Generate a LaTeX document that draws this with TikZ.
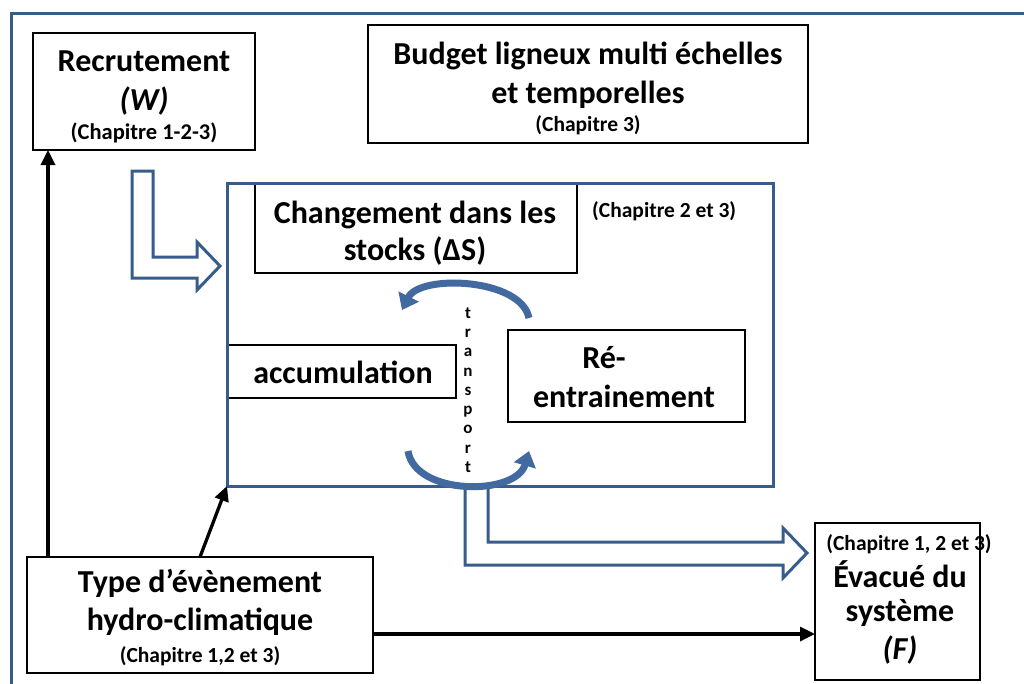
\documentclass[tikz,border=0pt]{standalone}
\usepackage{fontspec}
\setmainfont{Carlito}
\usetikzlibrary{arrows.meta,calc}
\definecolor{frameblue}{RGB}{56,93,138}
\definecolor{curvblue}{RGB}{66,106,160}
\begin{document}
\begin{tikzpicture}[x=1pt,y=-1pt,
  box/.style={draw=black, line width=2.1pt, fill=white, inner sep=0pt, outer sep=0pt},
  bluebox/.style={draw=frameblue, line width=3pt, inner sep=0pt, outer sep=0pt},
  big/.style={font=\fontsize{32}{38}\selectfont\bfseries, inner sep=0pt, anchor=base},
  small/.style={font=\fontsize{21.5}{25}\selectfont\bfseries, inner sep=0pt, anchor=base},
  hollow/.style={draw=frameblue, line width=3pt, fill=white, line join=miter},
  curv/.style={draw=curvblue, line width=7pt, -{Triangle[length=15pt,width=22pt]}},
  arr/.style={draw=black, line width=3.3pt, -{Triangle[length=15pt,width=14pt]}}]
\useasboundingbox (0,0) rectangle (1024,683);
\clip (0,0) rectangle (1024,683);
\fill[white] (0,0) rectangle (1024,683);
% outer frame
\draw[draw=frameblue, line width=3pt] (11,13) rectangle (1040,700);

% Recrutement
\node[box, minimum width=222pt, minimum height=117pt] (rec) at (144,91.5) {};
\node[big] (recT) at (144,71) {Recrutement};
\node[big] (recW) at (144,110) {\itshape (W)};
\node[small, font=\fontsize{22.5}{26}\selectfont\bfseries] (recC) at (144,139) {(Chapitre 1-2-3)};

% Budget
\node[box, minimum width=440pt, minimum height=118pt] (bud) at (588,84) {};
\node[big] (budT) at (588,64) {Budget ligneux multi échelles};
\node[big] (budT2) at (588,103) {et temporelles};
\node[small] (budC) at (588,131) {(Chapitre 3)};

% hollow arrow into system
\path[hollow] (132,171) -- (153,171) -- (153,257) -- (197,257) -- (197,242) -- (220,266) -- (197,290) -- (197,278) -- (132,278) -- cycle;
% hollow arrow out of system
\fill[white] (465,486) -- (465,565) -- (783,565) -- (783,578) -- (807,553) -- (783,528) -- (783,542) -- (488,542) -- (488,486);
\draw[draw=frameblue, line width=3pt, line join=miter] (465,486) -- (465,565) -- (783,565) -- (783,578) -- (807,553) -- (783,528) -- (783,542) -- (488,542) -- (488,486);

% inner boxes
\node[box, minimum width=322pt, minimum height=90pt] (chg) at (416,228) {};
\node[big] (chgT) at (415,223) {Changement dans les};
\node[big] (chgT2) at (415,260) {stocks (ΔS)};
\node[small, anchor=base west] (chgC) at (592,217) {(Chapitre 2 et 3)};

\node[box, minimum width=229pt, minimum height=53pt] (acc) at (341.5,371.5) {};
\node[big] (accT) at (343,383) {accumulation};

\node[box, minimum width=237pt, minimum height=92pt] (ren) at (626.5,376) {};
\node[big] (renT) at (604,368) {Ré-};
\node[big] (renT2) at (624,407) {entrainement};

% system box
\node[bluebox, minimum width=546pt, minimum height=303pt] (sys) at (500,334.5) {};

% transport
\node[font=\fontsize{17}{19.3}\selectfont\bfseries, align=center, inner sep=0pt] (tr) at (468,390) {t\\r\\a\\n\\s\\p\\o\\r\\t};

% curved arrows
\coordinate (ta1) at (529,318);
\coordinate (ta2) at (402,310);
\coordinate (ba1) at (408,451);
\coordinate (ba2) at (529,451);
\draw[curv] (ta1) .. controls (521,278) and (420,274) .. (ta2);
\draw[curv] (ba1) .. controls (415,496) and (516,496) .. (ba2);

% Type d'evenement
\node[box, minimum width=346pt, minimum height=116pt] (typ) at (200,615) {};
\node[big] (typT) at (200,592) {Type d’évènement};
\node[big] (typT2) at (200,630) {hydro-climatique};
\node[small] (typC) at (200,662) {(Chapitre 1,2 et 3)};

% Evacue
\node[box, minimum width=165pt, minimum height=157pt] (evac) at (897.5,601.5) {};
\node[small] (evC) at (909,550) {(Chapitre 1, 2 et 3)};
\node[big] (evT) at (900,587) {Évacué du};
\node[big] (evT2) at (900,621) {système};
\node[big] (evF) at (900,659) {\itshape (F)};

% black arrows
\draw[arr] ([xshift=21pt]typ.north west) -- ([xshift=21pt]typ.north west |- rec.south);
\draw[arr] ([xshift=173pt]typ.north west) -- (sys.south west);
\draw[arr] ([yshift=-19pt]typ.east) -- ([yshift=-19pt]typ.east -| evac.west);
\end{tikzpicture}
\end{document}
